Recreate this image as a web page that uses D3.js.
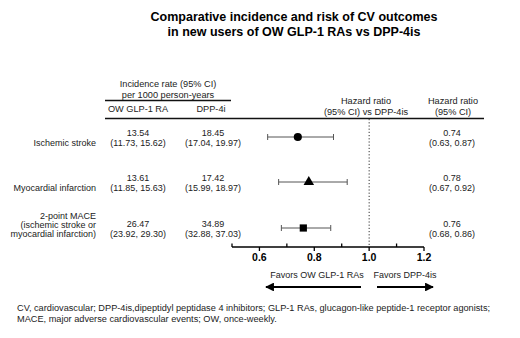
<!DOCTYPE html>
<html>
<head>
<meta charset="utf-8">
<script src="https://cdn.jsdelivr.net/npm/d3@7"></script>
<style>
  body { margin: 0; background: #fff; }
  svg { display: block; font-family: "Liberation Sans", Arial, sans-serif; }
  .cell { font-size: 9px; fill: #222; }
  .head { font-size: 9.2px; fill: #222; }
  .tick-label { font-size: 10.5px; font-weight: bold; }
</style>
</head>
<body>
<div id="chart"></div>
<script>
// outcome rows
const outcomes = [
  ['Ischemic stroke'],
  ['Myocardial infarction'],
  ['2-point MACE', '(ischemic stroke or', 'myocardial infarction)']
];
// incidence rate per 1000 person-years [rate, lo, hi]
const owRates = [[13.54, 11.73, 15.62], [13.61, 11.85, 15.63], [26.47, 23.92, 29.30]];
const dppRates = [[18.45, 17.04, 19.97], [17.42, 15.99, 18.97], [34.89, 32.88, 37.03]];
// hazard ratios [hr, lo, hi]
const hazardRatios = [[0.74, 0.63, 0.87], [0.78, 0.67, 0.92], [0.76, 0.68, 0.86]];
const markerShapes = [d3.symbolCircle, d3.symbolTriangle, d3.symbolSquare];
const axisTicks = [0.5, 0.6, 0.7, 0.8, 0.9, 1.0, 1.1, 1.2];
const majorTicks = [0.6, 0.8, 1.0, 1.2];

const width = 520, height = 338;
const rowY = [137, 182, 228];

const svg = d3.select('#chart').append('svg')
  .attr('width', width)
  .attr('height', height);

// Title
svg.append('text')
  .attr('x', 294).attr('y', 21)
  .attr('text-anchor', 'middle')
  .style('font-size', '12.5px').style('font-weight', 'bold')
  .selectAll('tspan')
  .data(['Comparative incidence and risk of CV outcomes', 'in new users of OW GLP-1 RAs vs DPP-4is'])
  .join('tspan')
  .attr('x', 294)
  .attr('dy', (d, i) => i ? 14.5 : 0)
  .text(d => d);

// Header
const header = svg.append('g').attr('class', 'head');
const headerText = (x, y, lines) => {
  header.append('text')
    .attr('x', x).attr('y', y)
    .attr('text-anchor', 'middle')
    .selectAll('tspan')
    .data(lines)
    .join('tspan')
    .attr('x', x)
    .attr('dy', (d, i) => i ? 10.5 : 0)
    .text(d => d);
};
headerText(168, 87, ['Incidence rate (95% CI)', 'per 1000 person-years']);
headerText(138, 112, ['OW GLP-1 RA']);
headerText(211, 112, ['DPP-4i']);
headerText(366, 104, ['Hazard ratio', '(95% CI) vs DPP-4is']);
headerText(453, 104, ['Hazard ratio', '(95% CI)']);

svg.append('line')
  .attr('x1', 105).attr('x2', 231).attr('y1', 100.5).attr('y2', 100.5)
  .attr('stroke', '#111').attr('stroke-width', 1.3);
svg.append('line')
  .attr('x1', 105).attr('x2', 484).attr('y1', 118.5).attr('y2', 118.5)
  .attr('stroke', '#111').attr('stroke-width', 1.3);

// Scale
const x = d3.scaleLinear().domain([0.5, 1.2]).range([232, 424]);

// reference line at HR = 1
svg.append('line')
  .attr('x1', x(1)).attr('x2', x(1))
  .attr('y1', 119).attr('y2', 247)
  .attr('stroke', '#333').attr('stroke-width', 1)
  .attr('stroke-dasharray', '1.2,2');

// Rows
const fmt = d3.format('.2f');
outcomes.forEach((label, i) => {
  const y = rowY[i];
  const g = svg.append('g').attr('class', 'cell');
  const labelTop = y + 9 - (label.length - 1) * 9;
  g.append('text')
    .attr('x', 96).attr('y', labelTop)
    .attr('text-anchor', 'end')
    .selectAll('tspan')
    .data(label)
    .join('tspan')
    .attr('x', 96)
    .attr('dy', (d, j) => j ? 9 : 0)
    .text(d => d);

  const valueCell = (cx, v) => {
    g.append('text')
      .attr('x', cx).attr('y', y - 1)
      .attr('text-anchor', 'middle')
      .selectAll('tspan')
      .data([fmt(v[0]), `(${fmt(v[1])}, ${fmt(v[2])})`])
      .join('tspan')
      .attr('x', cx)
      .attr('dy', (d, j) => j ? 10 : 0)
      .text(d => d);
  };
  valueCell(138, owRates[i]);
  valueCell(213, dppRates[i]);
  valueCell(452, hazardRatios[i]);

  // CI whisker
  const [hr, lo, hi] = hazardRatios[i];
  const whisker = svg.append('g').attr('stroke', '#555').attr('stroke-width', 1);
  whisker.append('line').attr('x1', x(lo)).attr('x2', x(hi)).attr('y1', y).attr('y2', y);
  whisker.append('line').attr('x1', x(lo)).attr('x2', x(lo)).attr('y1', y - 3).attr('y2', y + 3);
  whisker.append('line').attr('x1', x(hi)).attr('x2', x(hi)).attr('y1', y - 3).attr('y2', y + 3);

  svg.append('path')
    .attr('transform', `translate(${x(hr)},${y})`)
    .attr('d', d3.symbol().type(markerShapes[i]).size(i === 1 ? 48 : 52)())
    .attr('fill', '#000');
});

// Axis
const axisY = 247;
const axis = svg.append('g');
axis.append('line')
  .attr('x1', x(0.5)).attr('x2', x(1.2)).attr('y1', axisY).attr('y2', axisY)
  .attr('stroke', '#000').attr('stroke-width', 1.3);
axis.selectAll('.tk')
  .data(axisTicks)
  .join('line')
  .attr('class', 'tk')
  .attr('x1', d => x(d)).attr('x2', d => x(d))
  .attr('y1', d => majorTicks.includes(d) ? axisY : axisY - 3.5)
  .attr('y2', d => majorTicks.includes(d) ? axisY + 4 : axisY)
  .attr('stroke', '#000').attr('stroke-width', 1.3);
axis.selectAll('.tick-label')
  .data(majorTicks)
  .join('text')
  .attr('class', 'tick-label')
  .attr('x', d => x(d)).attr('y', 261)
  .attr('text-anchor', 'middle')
  .text(d => d3.format('.1f')(d));

// Favors annotations
svg.append('defs').append('marker')
  .attr('id', 'arrow')
  .attr('viewBox', '0 0 10 10')
  .attr('refX', 9).attr('refY', 5)
  .attr('markerWidth', 5.5).attr('markerHeight', 4)
  .attr('markerUnits', 'strokeWidth')
  .attr('orient', 'auto')
  .append('path').attr('d', 'M0,0L10,5L0,10Z').attr('fill', '#000');

svg.append('text').attr('class', 'cell')
  .attr('x', 317).attr('y', 278).attr('text-anchor', 'middle')
  .text('Favors OW GLP-1 RAs');
svg.append('text').attr('class', 'cell')
  .attr('x', 405).attr('y', 278).attr('text-anchor', 'middle')
  .text('Favors DPP-4is');
svg.append('line')
  .attr('x1', 361).attr('x2', 266).attr('y1', 287).attr('y2', 287)
  .attr('stroke', '#000').attr('stroke-width', 2.2)
  .attr('marker-end', 'url(#arrow)');
svg.append('line')
  .attr('x1', 377).attr('x2', 433).attr('y1', 287).attr('y2', 287)
  .attr('stroke', '#000').attr('stroke-width', 2.2)
  .attr('marker-end', 'url(#arrow)');

// Footnote
svg.append('text')
  .attr('x', 17).attr('y', 310.5)
  .style('font-size', '9.2px').attr('fill', '#222')
  .selectAll('tspan')
  .data([
    'CV, cardiovascular; DPP-4is,dipeptidyl peptidase 4 inhibitors; GLP-1 RAs, glucagon-like peptide-1 receptor agonists;',
    'MACE, major adverse cardiovascular events; OW, once-weekly.'
  ])
  .join('tspan')
  .attr('x', 17)
  .attr('dy', (d, i) => i ? 11.5 : 0)
  .text(d => d);
</script>
</body>
</html>
